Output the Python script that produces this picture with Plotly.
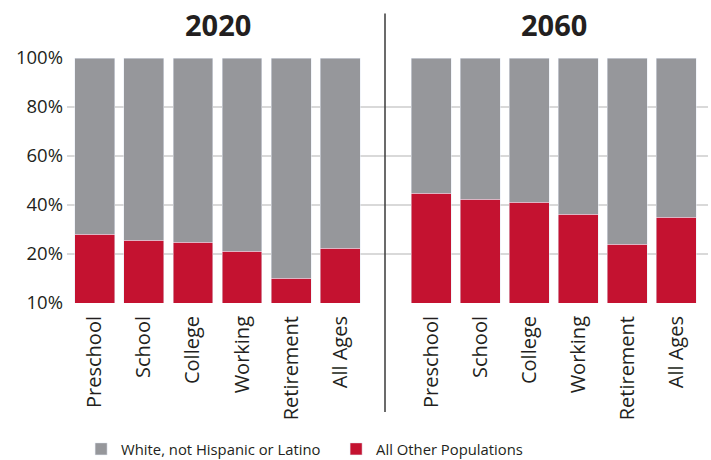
import plotly.graph_objects as go

categories = ["Preschool", "School", "College", "Working", "Retirement", "All Ages"]
other_2020 = [28.0, 25.6, 24.8, 21.1, 10.2, 22.3]
white_2020 = [72.0, 74.4, 75.2, 78.9, 89.8, 77.7]
other_2060 = [44.8, 42.3, 41.1, 36.2, 24.0, 35.0]
white_2060 = [55.2, 57.7, 58.9, 63.8, 76.0, 65.0]
y_tickvals = [0, 20, 40, 60, 80, 100]
y_ticktext = ["10%", "20%", "40%", "60%", "80%", "100%"]
panel_titles = ["2020", "2060"]

RED = "#c41230"
GRAY = "#96979b"
FONT = "Open Sans"
TXT = "#231f20"

fig = go.Figure()
fig.add_trace(go.Bar(x=categories, y=other_2020, marker_color=RED, name="All Other Populations",
                     xaxis="x", yaxis="y", legendgroup="o"))
fig.add_trace(go.Bar(x=categories, y=white_2020, marker_color=GRAY, name="White, not Hispanic or Latino",
                     xaxis="x", yaxis="y", legendgroup="w"))
fig.add_trace(go.Bar(x=categories, y=other_2060, marker_color=RED, name="All Other Populations",
                     xaxis="x2", yaxis="y", legendgroup="o", showlegend=False))
fig.add_trace(go.Bar(x=categories, y=white_2060, marker_color=GRAY, name="White, not Hispanic or Latino",
                     xaxis="x2", yaxis="y", legendgroup="w", showlegend=False))

split = (385 - 67) / 641
xcommon = dict(type="category", showgrid=False, zeroline=False, showline=False, ticks="",
               tickangle=-90, tickfont=dict(family=FONT, size=20, color=TXT),
               ticklabelstandoff=8, fixedrange=True, automargin=False)
fig.update_layout(
    width=711, height=460,
    margin=dict(l=67, r=3, t=58, b=157, autoexpand=False),
    paper_bgcolor="white", plot_bgcolor="white",
    barmode="stack", bargap=0.184,
    font=dict(family=FONT, color=TXT),
    xaxis=dict(domain=[0, split], range=[-0.571, 5.918], anchor="y", **xcommon),
    xaxis2=dict(domain=[split, 1], range=[-0.939, 5.653], anchor="y", **xcommon),
    yaxis=dict(range=[0, 100], tickvals=y_tickvals, ticktext=y_ticktext,
               showgrid=True, gridcolor="#d9d9d9", gridwidth=1.5, zeroline=False,
               showline=False, ticks="", tickfont=dict(family=FONT, size=18.5, color=TXT),
               ticklabelstandoff=3, automargin=False, fixedrange=True),
    legend=dict(orientation="h", x=0.022, xanchor="left", y=-0.597, yanchor="middle",
                traceorder="reversed", font=dict(family=FONT, size=14.8, color=TXT),
                itemwidth=30, entrywidth=210, entrywidthmode="pixels",
                bgcolor="rgba(0,0,0,0)"),
    showlegend=True,
)

fig.add_annotation(text="<b>" + panel_titles[0] + "</b>", x=2.5, xref="x", y=1.135, yref="paper",
                   showarrow=False, font=dict(family=FONT, size=29, color=TXT), yanchor="middle")
fig.add_annotation(text="<b>" + panel_titles[1] + "</b>", x=2.5, xref="x2", y=1.135, yref="paper",
                   showarrow=False, font=dict(family=FONT, size=29, color=TXT), yanchor="middle")

fig.add_shape(type="line", xref="paper", yref="paper", x0=split, x1=split, y0=1.182, y1=-0.445,
              line=dict(color="#3a3a3a", width=1.5))

fig.write_html("out.html", config={"displayModeBar": False},
               post_script="document.body.style.margin='0';")
